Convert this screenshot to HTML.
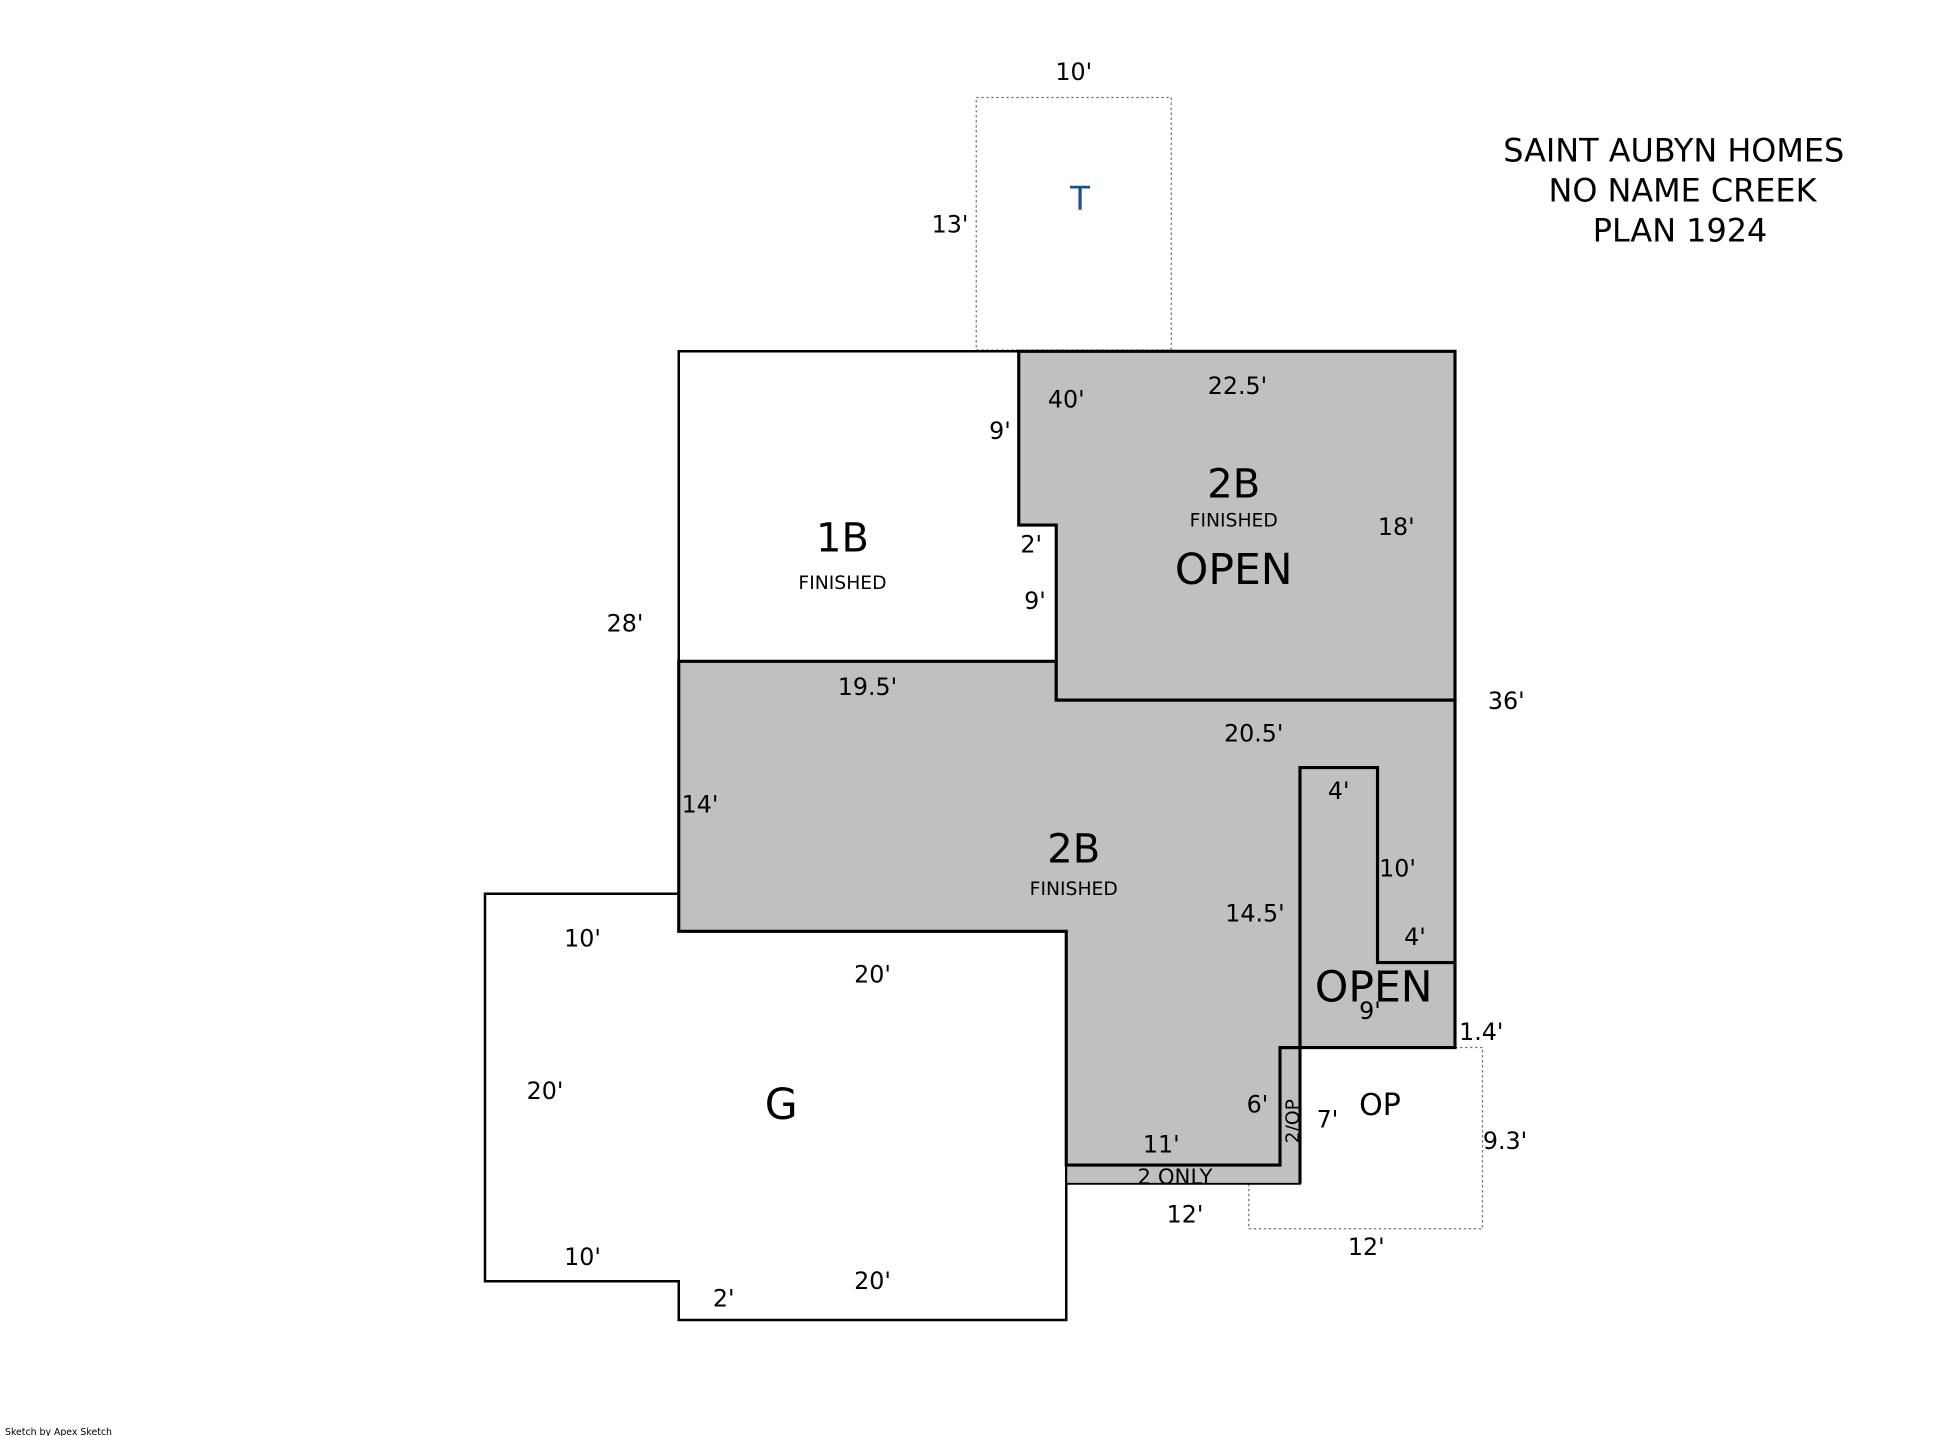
<!DOCTYPE html>
<html><head><meta charset="utf-8"><style>
html,body{margin:0;padding:0;background:#fff;}
svg{display:block;}
text{font-family:"DejaVu Sans","Liberation Sans",sans-serif;fill:#000;}
</style></head><body>
<svg width="1958" height="1436" viewBox="0 0 1566.4 1148.8" xmlns="http://www.w3.org/2000/svg">
<rect x="0" y="0" width="1566.4" height="1148.8" fill="#fff"/>
<rect x="781" y="78" width="156" height="202" fill="none" stroke="#777" stroke-width="1" stroke-dasharray="2,2"/>
<path d="M1040 838 H1186 V983 H999 V947" fill="none" stroke="#777" stroke-width="1" stroke-dasharray="2,2"/>
<path d="M388 715 H543 V745 H853 V1056 H543 V1025 H388 Z" fill="#fff" stroke="#000" stroke-width="2"/>
<path d="M543 281 H815 V420 H845 V529 H543 Z" fill="#fff" stroke="#000" stroke-width="2"/>
<path d="M1024 838 H1040 V947 H853 V932 H1024 Z" fill="#c0c0c0" stroke="#000" stroke-width="1.5"/>
<path d="M1024 838 H1040 V947" fill="none" stroke="#000" stroke-width="2.5"/>
<path d="M543 529 H845 V560 H1164 V770 H1102 V614 H1040 V838 H1024 V932 H853 V745 H543 Z" fill="#c0c0c0" stroke="#000" stroke-width="2.5"/>
<path d="M1040 614 H1102 V770 H1164 V838 H1040 Z" fill="#c0c0c0" stroke="#000" stroke-width="2.5"/>
<path d="M815 281 H1164 V560 H845 V420 H815 Z" fill="#c0c0c0" stroke="#000" stroke-width="2.5"/>

<g font-size="19">
<text x="859" y="64" text-anchor="middle">10'</text>
<text x="760" y="186" text-anchor="middle">13'</text>
<text x="500" y="505" text-anchor="middle">28'</text>
<text x="800" y="351" text-anchor="middle">9'</text>
<text x="853" y="326" text-anchor="middle">40'</text>
<text x="990" y="315" text-anchor="middle">22.5'</text>
<text x="1117" y="428" text-anchor="middle">18'</text>
<text x="825" y="442" text-anchor="middle">2'</text>
<text x="828" y="487" text-anchor="middle">9'</text>
<text x="694" y="556" text-anchor="middle">19.5'</text>
<text x="1205" y="567" text-anchor="middle">36'</text>
<text x="1003" y="593" text-anchor="middle">20.5'</text>
<text x="560" y="650" text-anchor="middle">14'</text>
<text x="1071" y="639" text-anchor="middle">4'</text>
<text x="1118" y="701" text-anchor="middle">10'</text>
<text x="1004" y="737" text-anchor="middle">14.5'</text>
<text x="1132" y="756" text-anchor="middle">4'</text>
<text x="466" y="757" text-anchor="middle">10'</text>
<text x="698" y="786" text-anchor="middle">20'</text>
<text x="1096" y="815" text-anchor="middle">9'</text>
<text x="1185" y="832" text-anchor="middle">1.4'</text>
<text x="436" y="879" text-anchor="middle">20'</text>
<text x="1006" y="890" text-anchor="middle">6'</text>
<text x="1062" y="902" text-anchor="middle">7'</text>
<text x="1204" y="919" text-anchor="middle">9.3'</text>
<text x="929" y="922" text-anchor="middle">11'</text>
<text x="948" y="978" text-anchor="middle">12'</text>
<text x="1093" y="1004" text-anchor="middle">12'</text>
<text x="466" y="1012" text-anchor="middle">10'</text>
<text x="698" y="1031" text-anchor="middle">20'</text>
<text x="579" y="1045" text-anchor="middle">2'</text>
<text x="940" y="947" text-anchor="middle" font-size="17">2 ONLY</text>
<text x="1039" y="897" text-anchor="middle" font-size="15" transform="rotate(-90 1039 897)">2/OP</text>
</g>
<text x="864" y="168" text-anchor="middle" font-size="26" style="fill:#1f4e8c">T</text>
<text x="674" y="441" text-anchor="middle" font-size="32">1B</text>
<text x="674" y="471" text-anchor="middle" font-size="15">FINISHED</text>
<text x="987" y="398" text-anchor="middle" font-size="32">2B</text>
<text x="987" y="421" text-anchor="middle" font-size="15">FINISHED</text>
<text x="987" y="467" text-anchor="middle" font-size="34">OPEN</text>
<text x="859" y="690" text-anchor="middle" font-size="32">2B</text>
<text x="859" y="716" text-anchor="middle" font-size="15">FINISHED</text>
<text x="1099" y="801" text-anchor="middle" font-size="34">OPEN</text>
<text x="1104" y="892" text-anchor="middle" font-size="24">OP</text>
<text x="625" y="895" text-anchor="middle" font-size="34">G</text>
<g font-size="25.5" text-anchor="middle">
<text x="1339" y="129">SAINT AUBYN HOMES</text>
<text x="1346" y="161">NO NAME CREEK</text>
<text x="1344" y="193">PLAN 1924</text>
</g>
<text x="4" y="1148" font-size="7.5">Sketch by Apex Sketch</text>
</svg>
</body></html>
